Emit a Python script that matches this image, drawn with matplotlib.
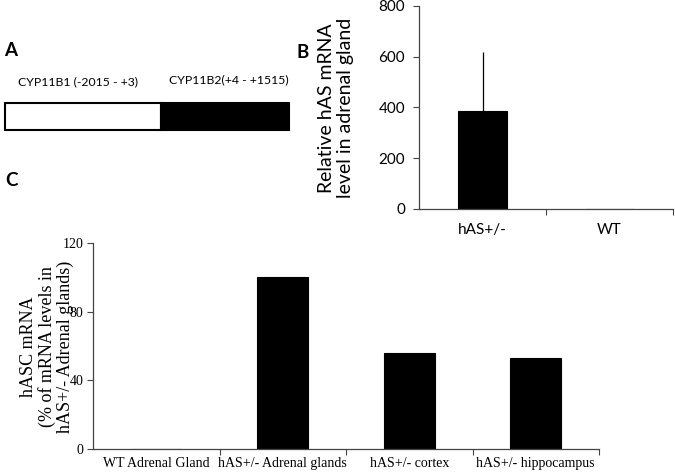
import matplotlib
matplotlib.use("Agg")
import matplotlib.pyplot as plt
from matplotlib.patches import Rectangle
import numpy as np

# Panel B data
b_categories = ["hAS+/-", "WT"]
b_values = [386, 0]
b_err_upper = [233, 0]
b_yticks = [0, 200, 400, 600, 800]

# Panel C data
c_categories = ["WT Adrenal Gland", "hAS+/- Adrenal glands", "hAS+/- cortex", "hAS+/- hippocampus"]
c_values = [0, 100, 56, 53]
c_yticks = [0, 40, 80, 120]

# Panel A construct labels
a_labels = ["CYP11B1 (-2015 - +3)", "CYP11B2(+4 - +1515)"]

W, H = 675, 475
fig = plt.figure(figsize=(6.75, 4.75), dpi=100)
fig.patch.set_facecolor("white")

sans = "Lato"
serif = "Liberation Serif"

def fx(x):
    return x / W

def fy(y):
    return 1 - y / H

# ---------- Panel letters ----------
fig.text(fx(4), fy(51), "A", fontsize=13.5, fontweight="bold", family=sans, va="center", ha="left")
fig.text(fx(296), fy(53), "B", fontsize=13.5, fontweight="bold", family=sans, va="center", ha="left")
fig.text(fx(5), fy(180), "C", fontsize=13.5, fontweight="bold", family=sans, va="center", ha="left")

# ---------- Panel A ----------
fig.text(fx(78), fy(82), a_labels[0], fontsize=8.8, family=sans, va="center", ha="center")
fig.text(fx(229), fy(80), a_labels[1], fontsize=8.8, family=sans, va="center", ha="center")
fig.patches.append(Rectangle((fx(5), fy(130)), fx(161) - fx(5), fy(103) - fy(130),
                             transform=fig.transFigure, facecolor="white", edgecolor="black", linewidth=1.5))
fig.patches.append(Rectangle((fx(161), fy(130)), fx(289) - fx(161), fy(103) - fy(130),
                             transform=fig.transFigure, facecolor="black", edgecolor="black", linewidth=1.5))

# ---------- Panel B ----------
axB = fig.add_axes([fx(419), fy(209), (673 - 419) / W, (209 - 6) / H])
xb = np.arange(len(b_categories))
axB.bar(xb, b_values, width=0.39, color="black", edgecolor="black", linewidth=0.8)
axB.errorbar(xb, b_values, yerr=[np.zeros(len(b_values)), b_err_upper], fmt="none",
             ecolor="black", elinewidth=0.9, capsize=0)
axB.set_xlim(-0.5, 1.5)
axB.set_ylim(0, 800)
axB.set_yticks(b_yticks)
axB.set_yticklabels([str(v) for v in b_yticks], family=sans, fontsize=11)
axB.set_xticks([0.5, 1.5])
axB.set_xticklabels(["", ""])
axB.set_xticks(xb, minor=True)
axB.set_xticklabels(b_categories, minor=True, family=sans, fontsize=11)
axB.tick_params(axis="x", which="minor", length=0, pad=10)
axB.tick_params(axis="x", which="major", length=4, direction="out", color="#444444")
axB.tick_params(axis="y", length=4, direction="out", color="#444444", pad=6)
for s in ["top", "right"]:
    axB.spines[s].set_visible(False)
for s in ["left", "bottom"]:
    axB.spines[s].set_color("#444444")
    axB.spines[s].set_linewidth(0.9)
fig.text(fx(336), fy(108), "Relative hAS mRNA\nlevel in adrenal gland", rotation=90,
         family=sans, fontsize=14, ha="center", va="center", linespacing=1.2)

# ---------- Panel C ----------
axC = fig.add_axes([fx(93), fy(449), (599 - 93) / W, (449 - 243) / H])
xc = np.arange(len(c_categories))
axC.bar(xc, c_values, width=0.40, color="black", edgecolor="black", linewidth=0.8)
axC.set_xlim(-0.5, 3.5)
axC.set_ylim(0, 120)
axC.set_yticks(c_yticks)
axC.set_yticklabels([str(v) for v in c_yticks], family=serif, fontsize=10)
axC.set_xticks([0.5, 1.5, 2.5, 3.5])
axC.set_xticklabels(["", "", "", ""])
axC.set_xticks(xc, minor=True)
axC.set_xticklabels(c_categories, minor=True, family=serif, fontsize=10)
axC.tick_params(axis="x", which="minor", length=0, pad=6)
axC.tick_params(axis="x", which="major", length=4, direction="out", color="#444444")
axC.tick_params(axis="y", length=4, direction="out", color="#444444", pad=3)
for s in ["top", "right"]:
    axC.spines[s].set_visible(False)
for s in ["left", "bottom"]:
    axC.spines[s].set_color("#444444")
    axC.spines[s].set_linewidth(0.9)
fig.text(fx(47), fy(347), "hASC mRNA\n(% of mRNA levels in\nhAS+/- Adrenal glands)", rotation=90,
         family=serif, fontsize=13, ha="center", va="center", linespacing=1.09)

fig.savefig("out.png", dpi=100, facecolor="white")
